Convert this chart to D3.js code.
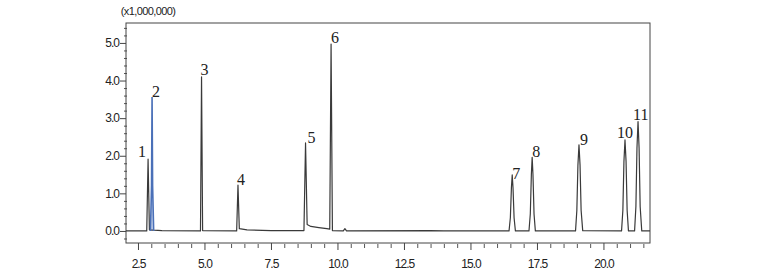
<!DOCTYPE html>
<html>
<head>
<meta charset="utf-8">
<script src="https://cdn.jsdelivr.net/npm/d3@7"></script>
<style>
  body { margin: 0; background: #fff; }
  svg { display: block; }
  .tick text { font-family: "Liberation Sans", Arial, sans-serif; font-size: 12px; letter-spacing: -1px; fill: #222; }
  .peak-label { font-family: "Liberation Serif", "Times New Roman", serif; font-size: 16px; fill: #222; }
</style>
</head>
<body>
<svg id="chart" width="757" height="274"></svg>
<script>
// retention times (min) and heights (x1,000,000) of the numbered peaks
const peakNames = ["1", "2", "3", "4", "5", "6", "7", "8", "9", "10", "11"];
const peakTimes = [2.88, 3.03, 4.89, 6.26, 8.80, 9.76, 16.57, 17.32, 19.08, 20.81, 21.30];
const peakHeights = [1.91, 3.56, 4.10, 1.22, 2.34, 4.97, 1.49, 1.96, 2.29, 2.42, 2.91];

// black trace: [time, signal]
const blackTrace = [
    [2.05, 0], [2.83, 0], [2.88, 1.91], [2.93, 0.03], [3.1, 0.02], [3.4, 0.01],
    [4.85, 0], [4.89, 4.10], [4.93, 0.01],
    [6.21, 0], [6.26, 1.22], [6.31, 0.06], [6.6, 0.03], [7.5, 0.01],
    [8.74, 0.01], [8.80, 2.34], [8.86, 0.17], [9.0, 0.12], [9.3, 0.09], [9.6, 0.06],
    [9.71, 0.05], [9.76, 4.97], [9.81, 0.01],
    [10.22, 0], [10.28, 0.06], [10.34, 0], [13.5, 0.01], [14.0, 0],
    [16.45, 0], [16.50, 0.35], [16.54, 1.15], [16.57, 1.49], [16.60, 1.15], [16.64, 0.35], [16.69, 0],
    [17.20, 0], [17.25, 0.45], [17.29, 1.50], [17.32, 1.96], [17.35, 1.50], [17.39, 0.45], [17.44, 0],
    [18.95, 0], [19.00, 0.55], [19.04, 1.75], [19.08, 2.29], [19.12, 1.75], [19.16, 0.55], [19.22, 0.01],
    [20.68, 0], [20.73, 0.55], [20.77, 1.85], [20.81, 2.42], [20.85, 1.85], [20.89, 0.55], [20.94, 0],
    [21.17, 0], [21.22, 0.65], [21.26, 2.20], [21.30, 2.91], [21.34, 2.20], [21.38, 0.65], [21.44, 0],
    [21.75, 0]
];

// blue trace (peak 2)
const blueTrace = [[2.97, 0], [3.01, 1.2], [3.03, 3.56], [3.05, 1.2], [3.09, 0]];

const xMajorTicks = [2.5, 5.0, 7.5, 10.0, 12.5, 15.0, 17.5, 20.0];
const yMajorTicks = [0.0, 1.0, 2.0, 3.0, 4.0, 5.0];

// label nudges in px from the apex (layout only)
const labelDx = [-2, 0, -1, -1, 2, 0, 0, 0, 1, 0, -5];
const labelDy = [-2, 0, -2, 0, 0, -1, 4, 0, 0, -2, -2];
const labelAnchor = ["end", "start", "start", "start", "start", "start", "start", "start", "start", "middle", "start"];

const svg = d3.select("#chart");

const x = d3.scaleLinear().domain([2.05, 21.75]).range([126, 650]);
const y = d3.scaleLinear().domain([-0.32, 5.53]).range([243, 23]);

const xMinor = d3.range(2.5, 21.6, 0.5).filter(v => !xMajorTicks.includes(v));
const yMinor = d3.range(-0.2, 5.45, 0.2).map(v => +v.toFixed(1)).filter(v => !yMajorTicks.includes(v));

// minor ticks
svg.append("g")
    .attr("transform", "translate(0,243)")
    .call(d3.axisBottom(x).tickValues(xMinor).tickSize(4).tickFormat(""))
    .call(g => g.select(".domain").remove())
    .call(g => g.selectAll("line").attr("stroke", "#555").attr("transform", "translate(0,1)"));

svg.append("g")
    .attr("transform", "translate(126,0)")
    .call(d3.axisLeft(y).tickValues(yMinor).tickSize(3).tickFormat(""))
    .call(g => g.select(".domain").remove())
    .call(g => g.selectAll("line").attr("stroke", "#555").attr("transform", "translate(1,0)"));

// major ticks + labels
svg.append("g")
    .attr("transform", "translate(0,243)")
    .call(d3.axisBottom(x).tickValues(xMajorTicks).tickSize(7).tickPadding(9).tickFormat(d3.format(".1f")))
    .call(g => g.select(".domain").remove())
    .call(g => g.selectAll("line").attr("stroke", "#444"));

svg.append("g")
    .attr("transform", "translate(126,0)")
    .call(d3.axisLeft(y).tickValues(yMajorTicks).tickSize(6).tickPadding(1).tickFormat(d3.format(".1f")))
    .call(g => g.select(".domain").remove())
    .call(g => g.selectAll("line").attr("stroke", "#444"));

// frame
svg.append("rect")
    .attr("x", x.range()[0])
    .attr("y", y.range()[1])
    .attr("width", x.range()[1] - x.range()[0])
    .attr("height", y.range()[0] - y.range()[1])
    .attr("fill", "none")
    .attr("stroke", "#444")
    .attr("stroke-width", 1);

svg.append("text")
    .attr("x", 148)
    .attr("y", 15)
    .attr("text-anchor", "middle")
    .style("font-family", "'Liberation Sans', Arial, sans-serif")
    .style("font-size", "11px")
    .style("letter-spacing", "-0.6px")
    .attr("fill", "#222")
    .text("(x1,000,000)");

// traces
const line = d3.line().x(d => x(d[0])).y(d => y(d[1]));
const area = d3.area().x(d => x(d[0])).y0(y(0)).y1(d => y(d[1]));

svg.append("path")
    .datum(blueTrace)
    .attr("d", area)
    .attr("fill", "#9db4de")
    .attr("fill-opacity", 0.5);

svg.append("path")
    .datum(blackTrace)
    .attr("d", line)
    .attr("fill", "none")
    .attr("stroke", "#3a3a3a")
    .attr("stroke-width", 1.2)
    .attr("stroke-linejoin", "round");

svg.append("path")
    .datum(blueTrace)
    .attr("d", line)
    .attr("fill", "none")
    .attr("stroke", "#4a70b8")
    .attr("stroke-width", 1.6);

// peak numbers
svg.selectAll(".peak-label")
    .data(peakNames)
    .enter()
    .append("text")
    .attr("class", "peak-label")
    .attr("x", (d, i) => x(peakTimes[i]) + labelDx[i])
    .attr("y", (d, i) => y(peakHeights[i]) + labelDy[i])
    .attr("text-anchor", (d, i) => labelAnchor[i])
    .text(d => d);
</script>
</body>
</html>
